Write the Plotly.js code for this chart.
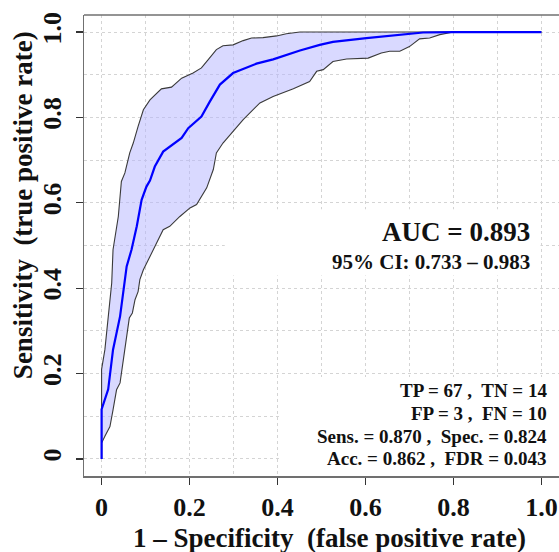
<!DOCTYPE html>
<html>
<head>
<meta charset="utf-8">
<script src="https://cdn.plot.ly/plotly-3.0.1.min.js"></script>
<style>html,body{margin:0;padding:0;background:#fff;}#chart{width:559px;height:552px;}</style>
</head>
<body>
<div id="chart"></div>
<script>
// ROC curve (1 - specificity vs sensitivity)
var rocX = [0, 0, 0.015, 0.026, 0.042, 0.049, 0.057, 0.068, 0.080, 0.091, 0.102, 0.11, 0.121, 0.14, 0.16, 0.182, 0.197, 0.227, 0.246, 0.269, 0.299, 0.352, 0.39, 0.42, 0.451, 0.496, 0.526, 0.602, 0.678, 0.731, 0.8, 1.0];
var rocY = [0, 0.116, 0.163, 0.256, 0.334, 0.389, 0.451, 0.49, 0.545, 0.607, 0.638, 0.652, 0.685, 0.72, 0.735, 0.752, 0.775, 0.802, 0.837, 0.877, 0.904, 0.926, 0.936, 0.947, 0.957, 0.970, 0.977, 0.986, 0.994, 0.999, 1.0, 1.0];
// 95% CI band, upper and lower limits
var upperX = [0, 0, 0.0075, 0.015, 0.023, 0.026, 0.038, 0.045, 0.053, 0.064, 0.072, 0.083, 0.095, 0.11, 0.136, 0.159, 0.182, 0.208, 0.227, 0.242, 0.261, 0.276, 0.299, 0.322, 0.341, 0.367, 0.398, 0.42, 0.451, 1.0];
var upperY = [0, 0.21, 0.256, 0.334, 0.412, 0.49, 0.568, 0.65, 0.67, 0.717, 0.74, 0.779, 0.818, 0.841, 0.867, 0.871, 0.892, 0.904, 0.916, 0.935, 0.959, 0.968, 0.970, 0.980, 0.986, 0.987, 0.991, 0.996, 1.0, 1.0];
var lowerX = [0, 0, 0.0075, 0.019, 0.026, 0.034, 0.042, 0.049, 0.057, 0.063, 0.070, 0.076, 0.083, 0.087, 0.095, 0.106, 0.117, 0.129, 0.14, 0.155, 0.178, 0.201, 0.216, 0.227, 0.239, 0.254, 0.261, 0.276, 0.299, 0.322, 0.36, 0.39, 0.436, 0.473, 0.489, 0.504, 0.526, 0.557, 0.606, 0.636, 0.655, 0.678, 0.7, 0.723, 0.746, 0.769, 0.8, 1.0];
var lowerY = [0, 0.037, 0.053, 0.076, 0.115, 0.162, 0.178, 0.233, 0.287, 0.33, 0.342, 0.373, 0.392, 0.42, 0.443, 0.467, 0.49, 0.514, 0.537, 0.545, 0.568, 0.588, 0.596, 0.615, 0.635, 0.678, 0.717, 0.74, 0.767, 0.795, 0.834, 0.849, 0.867, 0.884, 0.908, 0.912, 0.931, 0.937, 0.939, 0.951, 0.955, 0.955, 0.966, 0.984, 0.986, 0.994, 1.0, 1.0];
// tick labels
var tickVals = [0, 0.2, 0.4, 0.6, 0.8, 1.0];
var tickText = ["0", "0.2", "0.4", "0.6", "0.8", "1.0"];
// texts
var aucText = "AUC = 0.893";
var ciText = "95% CI: 0.733 \u2013 0.983";
var statLines = ["TP = 67 ,  TN = 14", "FP = 3 ,  FN = 10", "Sens. = 0.870 ,  Spec. = 0.824", "Acc. = 0.862 ,  FDR = 0.043"];
var xTitle = "1 \u2013 Specificity  (false positive rate)";
var yTitle = "Sensitivity  (true positive rate)";

var FONT = "Liberation Serif, Times New Roman, serif";

var polyX = upperX.concat(lowerX.slice().reverse());
var polyY = upperY.concat(lowerY.slice().reverse());

var traces = [
  {x: polyX, y: polyY, type: 'scatter', mode: 'lines', fill: 'toself',
   fillcolor: 'rgba(180,180,255,0.5)', line: {width: 0}, hoverinfo: 'skip', showlegend: false},
  {x: upperX, y: upperY, type: 'scatter', mode: 'lines', line: {color: '#3a3a3a', width: 1.1}, showlegend: false},
  {x: lowerX, y: lowerY, type: 'scatter', mode: 'lines', line: {color: '#3a3a3a', width: 1.1}, showlegend: false},
  {x: rocX, y: rocY, type: 'scatter', mode: 'lines', line: {color: '#0000ff', width: 2.2}, showlegend: false}
];

var axisCommon = {
  range: [-0.04, 1.04], tickmode: 'array', tickvals: tickVals, ticktext: tickText,
  ticks: 'outside', ticklen: 7, tickwidth: 1.2, tickcolor: '#333',
  showgrid: true, gridcolor: '#d4d4d4', griddash: 'dot', gridwidth: 1,
  minor: {tickmode: 'linear', tick0: 0, dtick: 0.1, showgrid: true, gridcolor: '#d4d4d4', griddash: 'dot', gridwidth: 1, ticks: ''},
  zeroline: false, showline: true, linecolor: '#707070', linewidth: 1.5,
  tickfont: {family: FONT, size: 26, color: '#111', weight: 'bold'}
};

var layout = {
  width: 559, height: 552,
  margin: {l: 84, r: 0, t: 15, b: 76},
  paper_bgcolor: '#fff', plot_bgcolor: '#fff',
  xaxis: Object.assign({}, axisCommon, {mirror: false, ticklabelstandoff: 0}),
  yaxis: Object.assign({}, axisCommon, {tickangle: -90, mirror: false, ticklabelstandoff: 4}),
  shapes: [
    {type: 'line', xref: 'paper', yref: 'paper', x0: 0, x1: 1, y0: 1, y1: 1, line: {color: '#707070', width: 1.5}},
    {type: 'rect', xref: 'x', yref: 'y', x0: 0.28, x1: 0.998, y0: 0.43, y1: 0.585, fillcolor: '#fff', line: {width: 0}, layer: 'between'},
    {type: 'rect', xref: 'x', yref: 'y', x0: 0.41, x1: 1.04, y0: -0.04, y1: 0.192, fillcolor: '#fff', line: {width: 0}, layer: 'between'}
  ],
  annotations: [
    {text: aucText, x: 0.978, y: 0.532, xref: 'x', yref: 'y', xanchor: 'right', yanchor: 'middle', showarrow: false,
     font: {family: FONT, size: 27, color: '#111', weight: 'bold'}},
    {text: ciText, x: 0.978, y: 0.462, xref: 'x', yref: 'y', xanchor: 'right', yanchor: 'middle', showarrow: false,
     font: {family: FONT, size: 21, color: '#111', weight: 'bold'}},
    {text: statLines[0], x: 1.018, y: 0.160, xref: 'x', yref: 'y', xanchor: 'right', yanchor: 'middle', showarrow: false,
     font: {family: FONT, size: 19, color: '#111', weight: 'bold'}},
    {text: statLines[1], x: 1.018, y: 0.106, xref: 'x', yref: 'y', xanchor: 'right', yanchor: 'middle', showarrow: false,
     font: {family: FONT, size: 19, color: '#111', weight: 'bold'}},
    {text: statLines[2], x: 1.018, y: 0.053, xref: 'x', yref: 'y', xanchor: 'right', yanchor: 'middle', showarrow: false,
     font: {family: FONT, size: 19, color: '#111', weight: 'bold'}},
    {text: statLines[3], x: 1.018, y: 0.0, xref: 'x', yref: 'y', xanchor: 'right', yanchor: 'middle', showarrow: false,
     font: {family: FONT, size: 19, color: '#111', weight: 'bold'}},
    {text: xTitle, x: 0.516, y: -0.135, xref: 'paper', yref: 'paper', xanchor: 'center', yanchor: 'middle', showarrow: false,
     font: {family: FONT, size: 27, color: '#111', weight: 'bold'}},
    {text: yTitle, x: -0.128, y: 0.588, xref: 'paper', yref: 'paper', xanchor: 'center', yanchor: 'middle', textangle: -90, showarrow: false,
     font: {family: FONT, size: 27, color: '#111', weight: 'bold'}}
  ]
};

Plotly.newPlot('chart', traces, layout, {staticPlot: true, displayModeBar: false});
</script>
</body>
</html>
